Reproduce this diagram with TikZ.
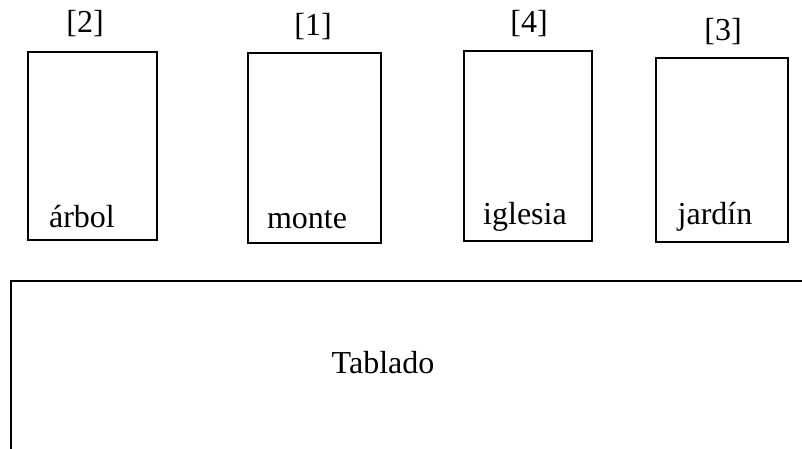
\documentclass[tikz,border=0pt]{standalone}
\usepackage{fontspec}
\setmainfont{Liberation Serif}
\begin{document}
\begin{tikzpicture}[x=0.75pt,y=-0.75pt,
  card/.style={draw, line width=1.2pt, rectangle, inner sep=0pt},
  lbl/.style={anchor=base, inner sep=0pt, font=\fontsize{24}{28}\selectfont},
  edge/.style={line width=1.4pt}]
\useasboundingbox (0,0) rectangle (802,449);
% cards
\node[card, minimum width=96.75pt, minimum height=141pt] (c2) at (92.5,146) {};
\node[card, minimum width=99.75pt, minimum height=142.5pt] (c1) at (314.5,148) {};
\node[card, minimum width=96pt, minimum height=142.5pt] (c4) at (528,146) {};
\node[card, minimum width=99pt, minimum height=138pt] (c3) at (722,150) {};
% numbers
\node[lbl] (n2) at (85,33) {[2]};
\node[lbl] (n1) at (313,36) {[1]};
\node[lbl] (n4) at (529,33) {[4]};
\node[lbl] (n3) at (723,41) {[3]};
% names
\node[lbl] (t2) at (82,227) {árbol};
\node[lbl] (t1) at (307,228) {monte};
\node[lbl] (t4) at (525,224) {iglesia};
\node[lbl] (t3) at (715,224) {jardín};
% stage
\coordinate (sr) at (802,281);
\coordinate (sl) at (11,281);
\coordinate (sb) at (11,449);
\draw[edge] (sr) -- (sl) -- (sb);
\node[lbl] (tab) at (383,373) {Tablado};
\end{tikzpicture}
\end{document}
